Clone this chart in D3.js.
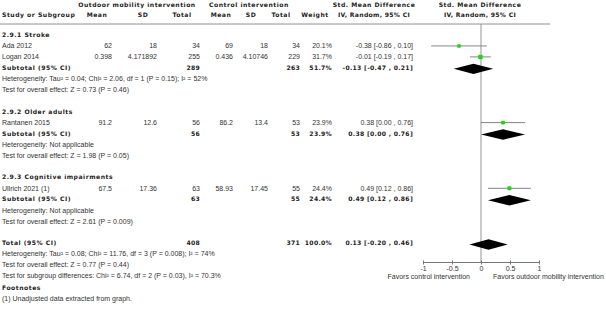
<!DOCTYPE html>
<html>
<head>
<meta charset="utf-8">
<script src="https://cdn.jsdelivr.net/npm/d3@7"></script>
<style>
  html, body { margin: 0; padding: 0; background: #fff; }
  svg { display: block; }
  .reg { font-family: "Liberation Sans", Arial, sans-serif; font-size: 7px; fill: #333; }
  .bld { font-family: "DejaVu Sans", Verdana, sans-serif; font-size: 6.1px; font-weight: bold; fill: #222; letter-spacing: 0.5px; }
  .bld.num { letter-spacing: 0.3px; }
</style>
</head>
<body>
<div id="chart"></div>
<script>
// ── Data ─────────────────────────────────────────────────────
const studyNames = ['Ada 2012', 'Logan 2014', 'Rantanen 2015', 'Ullrich 2021 (1)'];
const studyGroup = [0, 0, 1, 2];
const expMean  = ['62', '0.398', '91.2', '67.5'];
const expSD    = ['18', '4.171892', '12.6', '17.36'];
const expN     = [34, 255, 56, 63];
const ctlMean  = ['69', '0.436', '86.2', '58.93'];
const ctlSD    = ['18', '4.10746', '13.4', '17.45'];
const ctlN     = [34, 229, 53, 55];
const weights  = [20.1, 31.7, 23.9, 24.4];
const smd      = [-0.38, -0.01, 0.38, 0.49];
const ciLow    = [-0.86, -0.19, 0.00, 0.12];
const ciHigh   = [0.10, 0.17, 0.76, 0.86];

const groupNames  = ['2.9.1 Stroke', '2.9.2 Older adults', '2.9.3 Cognitive impairments'];
const groupExpN   = [289, 56, 63];
const groupCtlN   = [263, 53, 55];
const groupWeight = [51.7, 23.9, 24.4];
const groupSmd    = [-0.13, 0.38, 0.49];
const groupLow    = [-0.47, 0.00, 0.12];
const groupHigh   = [0.21, 0.76, 0.86];
const groupHet    = [
  'Heterogeneity: Tau² = 0.04; Chi² = 2.06, df = 1 (P = 0.15); I² = 52%',
  'Heterogeneity: Not applicable',
  'Heterogeneity: Not applicable'
];
const groupTest   = [
  'Test for overall effect: Z = 0.73 (P = 0.46)',
  'Test for overall effect: Z = 1.98 (P = 0.05)',
  'Test for overall effect: Z = 2.61 (P = 0.009)'
];

const totalRow = { expN: 408, ctlN: 371, weight: 100.0, smd: 0.13, lo: -0.20, hi: 0.46 };
const totalNotes = [
  'Heterogeneity: Tau² = 0.08; Chi² = 11.76, df = 3 (P = 0.008); I² = 74%',
  'Test for overall effect: Z = 0.77 (P = 0.44)',
  'Test for subgroup differences: Chi² = 6.74, df = 2 (P = 0.03), I² = 70.3%'
];
const footnotes = ['(1) Unadjusted data extracted from graph.'];
const axisTicks = [-1, -0.5, 0, 0.5, 1];
const favorLabels = ['Favors control intervention', 'Favors outdoor mobility intervention'];

// ── Layout ───────────────────────────────────────────────────
const W = 606, H = 314;
const lineH = 10.95, firstRow = 35;
const rowY = i => firstRow + i * lineH;

const col = {
  eMean: 112, eSD: 157, eN: 200,
  cMean: 233, cSD: 268, cN: 300,
  wt: 332, smd: 413
};

const x = d3.scaleLinear().domain([-1, 1]).range([423, 539]);
const axisY = 262;
// plain hyphen minus, like the original
const fmt2 = v => v.toFixed(2);
const ciText = (m, l, h) => `${fmt2(m)} [${fmt2(l)} , ${fmt2(h)}]`;

const svg = d3.select('#chart').append('svg')
  .attr('width', W).attr('height', H);

function txt(cls, xx, yy, s, anchor = 'start') {
  return svg.append('text')
    .attr('class', cls)
    .attr('x', xx).attr('y', yy)
    .attr('dy', '0.35em')
    .attr('text-anchor', anchor)
    .text(s);
}

// ── Header ───────────────────────────────────────────────────
txt('bld', 137, 4.5, 'Outdoor mobility intervention', 'middle');
txt('bld', 249, 4.5, 'Control intervention', 'middle');
txt('bld', 374, 4.5, 'Std. Mean Difference', 'middle');
txt('bld', 480, 4.5, 'Std. Mean Difference', 'middle');
txt('bld', 2, 14.5, 'Study or Subgroup');
[['Mean', 97], ['SD', 143], ['Total', 182], ['Mean', 221], ['SD', 251],
 ['Total', 281], ['Weight', 315]].forEach(([s, xx]) => txt('bld', xx, 14.5, s, 'middle'));
txt('bld num', 374, 14.5, 'IV, Random, 95% CI', 'middle');
txt('bld num', 480, 14.5, 'IV, Random, 95% CI', 'middle');

svg.append('line')
  .attr('x1', 0).attr('x2', 550).attr('y1', 24).attr('y2', 24)
  .attr('stroke', '#777').attr('stroke-width', 0.8);

// zero line
svg.append('line')
  .attr('x1', x(0)).attr('x2', x(0)).attr('y1', 24).attr('y2', axisY)
  .attr('stroke', '#888').attr('stroke-width', 0.9);

// ── Rows ─────────────────────────────────────────────────────
const groupStart = [0, 7, 13];
const sizeScale = d3.scaleSqrt().domain([0, 100]).range([0, 8]);

function diamond(yy, m, l, h) {
  const hh = 5.2;
  svg.append('path')
    .attr('d', `M${x(l)},${yy} L${x(m)},${yy - hh} L${x(h)},${yy} L${x(m)},${yy + hh} Z`)
    .attr('fill', '#000');
}

groupNames.forEach((g, gi) => {
  const r0 = groupStart[gi];
  txt('bld', 2, rowY(r0), g);
  const idx = studyNames.map((_, i) => i).filter(i => studyGroup[i] === gi);
  idx.forEach((si, k) => {
    const yy = rowY(r0 + 1 + k);
    txt('reg', 2, yy, studyNames[si]);
    txt('reg', col.eMean, yy, expMean[si], 'end');
    txt('reg', col.eSD, yy, expSD[si], 'end');
    txt('reg', col.eN, yy, expN[si], 'end');
    txt('reg', col.cMean, yy, ctlMean[si], 'end');
    txt('reg', col.cSD, yy, ctlSD[si], 'end');
    txt('reg', col.cN, yy, ctlN[si], 'end');
    txt('reg', col.wt, yy, weights[si].toFixed(1) + '%', 'end');
    txt('reg', col.smd, yy, ciText(smd[si], ciLow[si], ciHigh[si]), 'end');
    svg.append('line')
      .attr('x1', x(ciLow[si])).attr('x2', x(ciHigh[si]))
      .attr('y1', yy).attr('y2', yy)
      .attr('stroke', '#777').attr('stroke-width', 0.9);
    const s = sizeScale(weights[si]);
    svg.append('rect')
      .attr('x', x(smd[si]) - s / 2).attr('y', yy - s / 2)
      .attr('width', s).attr('height', s)
      .attr('rx', 1)
      .attr('fill', '#1ed21e');
  });
  const ys = rowY(r0 + 1 + idx.length);
  txt('bld', 2, ys, 'Subtotal (95% CI)');
  txt('bld num', col.eN, ys, groupExpN[gi], 'end');
  txt('bld num', col.cN, ys, groupCtlN[gi], 'end');
  txt('bld num', col.wt, ys, groupWeight[gi].toFixed(1) + '%', 'end');
  txt('bld num', col.smd, ys, ciText(groupSmd[gi], groupLow[gi], groupHigh[gi]), 'end');
  diamond(ys + 1, groupSmd[gi], groupLow[gi], groupHigh[gi]);
  txt('reg', 2, rowY(r0 + 2 + idx.length), groupHet[gi]);
  txt('reg', 2, rowY(r0 + 3 + idx.length), groupTest[gi]);
});

// ── Total ────────────────────────────────────────────────────
const yt = rowY(19);
txt('bld', 2, yt, 'Total (95% CI)');
txt('bld num', col.eN, yt, totalRow.expN, 'end');
txt('bld num', col.cN, yt, totalRow.ctlN, 'end');
txt('bld num', col.wt, yt, totalRow.weight.toFixed(1) + '%', 'end');
txt('bld num', col.smd, yt, ciText(totalRow.smd, totalRow.lo, totalRow.hi), 'end');
diamond(yt + 1.5, totalRow.smd, totalRow.lo, totalRow.hi);
totalNotes.forEach((s, i) => txt('reg', 2, rowY(20 + i), s));

// ── Footnotes ────────────────────────────────────────────────
txt('bld', 2, 288, 'Footnotes');
footnotes.forEach((s, i) => txt('reg', 2, 299 + i * lineH, s));

// ── Axis ─────────────────────────────────────────────────────
const axis = svg.append('g')
  .attr('transform', `translate(0,${axisY})`)
  .call(d3.axisBottom(x).tickValues(axisTicks).tickSize(2.5).tickSizeOuter(0)
    .tickFormat(d => String(d)));
axis.select('.domain').attr('stroke', '#777');
axis.selectAll('.tick line').attr('stroke', '#777').attr('y1', -1.5);
axis.selectAll('.tick text')
  .attr('y', 4.5)
  .attr('fill', '#333')
  .attr('font-family', '"Liberation Sans", Arial, sans-serif')
  .attr('font-size', '7px');

txt('reg', 470, 277, favorLabels[0], 'end');
txt('reg', 493, 277, favorLabels[1]);
</script>
</body>
</html>
